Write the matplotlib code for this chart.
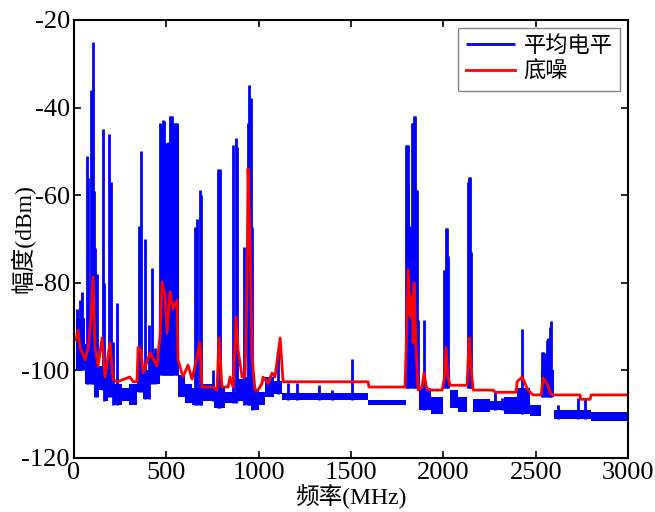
import numpy as np
import matplotlib
matplotlib.use("Agg")
import matplotlib.pyplot as plt

# ---------------- data ----------------
# blue noise band (step envelope): start frequency, lower and upper level
band_f = [10, 60, 110, 135, 160, 185, 210, 260, 300, 340, 375, 410, 466, 565, 600, 640,
          700, 760, 820, 880, 920, 960, 1000, 1035, 1080, 1126, 1592, 1795, 1868, 1930,
          1995, 2035, 2080, 2130, 2160, 2250, 2330, 2400, 2470, 2530, 2600, 2800, 3000]
band_lo = [-100, -103, -106, -104.5, -107, -106, -108, -107, -108, -105, -106.5, -103,
           -101, -106, -107.5, -108, -107, -108.5, -107.5, -107, -108, -109, -108, -106,
           -105.5, -106.8, -108, -104, -109, -110, -104, -108.5, -109.5, -104, -109.5,
           -109, -110, -110, -110.5, -106, -111, -111.5, -111.5]
band_hi = [-88, -94, -97, -99, -98, -100, -103, -104, -103, -99, -100, -96,
           -96, -101, -103, -104, -103, -104, -105, -102, -101.5, -104.5, -105, -101.5,
           -102.5, -105.2, -106.8, -100, -104, -106, -100, -104.5, -106, -100, -106.5,
           -107, -106, -104, -108, -100, -109, -109.5, -109.5]

# blue spikes: frequency and peak level
spike_f = [18, 35, 45, 50, 70, 78, 92, 103, 108, 115, 124, 155, 162, 190, 199, 210, 231,
           352, 363, 384, 405, 420, 440,
           468, 474, 480, 486, 492, 497, 502, 508, 514, 520, 526, 532, 538, 544, 550, 556, 560,
           655, 665, 683, 690, 753, 780, 790, 861, 877, 883, 920, 942, 950, 958, 963, 1105,
           1160, 1207, 1327, 1397, 1505,
           1798, 1803, 1807, 1810, 1820, 1829, 1834, 1839, 1845, 1849, 1855, 1865, 1895,
           2005, 2013, 2018, 2023, 2131, 2139, 2144, 2150,
           2280, 2317, 2426, 2534, 2540, 2550, 2560, 2567, 2575, 2583, 2620, 2730, 2767]
spike_top = [-86, -84, -82, -88, -51, -56, -36, -25, -59, -72, -78, -45, -80, -46, -57, -93.5, -84.6,
             -67, -50, -70, -89.6, -76.6, -95,
             -43.5, -44.4, -42.8, -43, -54, -48, -48, -47.8, -48, -42, -42, -42, -43.5, -43.5, -43.5, -43.5, -44,
             -67.3, -65.5, -58.8, -60, -100, -54, -54, -48.5, -47, -49, -71.8, -43.5, -34.8, -37.8, -67.3, -95.3,
             -102.9, -102.9, -103.3, -104.5, -97.4,
             -48.5, -48.5, -48.5, -58, -67, -43.5, -43.5, -42, -42, -58.8, -58.8, -88.5, -88.5,
             -77, -67.5, -67.5, -74, -57, -55.8, -55.8, -73,
             -105, -106.3, -90.5, -95.8, -95.8, -96, -93, -92.6, -90, -88.7, -107.9, -106.3, -106.5]

# red noise floor
floor_f = [10, 22, 32, 60, 76, 92, 103, 114, 130, 152, 168, 195, 211, 233, 303, 320, 341, 347,
           363, 374, 412, 449, 466, 477, 493, 504, 520, 536, 558, 563, 590, 617, 639, 682,
           693, 753, 774, 785, 801, 834, 845, 861, 877, 888, 910, 926, 937, 942, 953, 964,
           980, 996, 1018, 1023, 1050, 1072, 1088, 1116, 1126, 1132, 1592, 1597, 1792,
           1798, 1809, 1820, 1830, 1836, 1841, 1852, 1863, 1884, 1895, 1906, 1917, 1993,
           2004, 2014, 2025, 2036, 2128, 2134, 2139, 2155, 2161, 2269, 2280, 2393, 2399,
           2426, 2442, 2458, 2485, 2529, 2540, 2561, 2578, 2588, 2740, 2742, 2794, 2800, 3000]
floor_db = [-93, -90.8, -94.7, -97.6, -95, -88, -78.7, -94.7, -99, -92.6, -101.5, -93.7, -102,
            -102.6, -101.5, -102.6, -102.6, -94.7, -95.5, -100.6, -96, -99, -92, -79.8, -83,
            -91.5, -82, -86, -84, -97.6, -101.5, -98.8, -102, -93.7, -103.8, -103.8, -104.5,
            -92.6, -103.8, -103.8, -101.5, -103.8, -87.8, -95.3, -101.5, -101.5, -80, -54,
            -70, -97, -104.5, -104.5, -103, -101.5, -103, -100.6, -101.5, -92.6, -99, -102.6,
            -102.6, -103.8, -103.8, -95.3, -77, -87.8, -83, -93.7, -80, -95.3, -104.5, -103.8,
            -100.6, -103.5, -104.5, -104.5, -102, -94.7, -101.5, -103.4, -103.4, -97.6, -92.6,
            -102, -104.5, -104.5, -105, -105, -102.6, -101.5, -103, -104.5, -105.6, -105.6,
            -101.7, -103, -105, -105.6, -105.6, -106.6, -106.6, -105.6, -105.6]

x_ticks = [0, 500, 1000, 1500, 2000, 2500, 3000]
y_ticks = [-120, -100, -80, -60, -40, -20]

# ---------------- drawing ----------------
plt.rcParams["font.family"] = ["Liberation Serif", "Noto Sans CJK SC"]
plt.rcParams["axes.unicode_minus"] = False

fig = plt.figure(figsize=(6.55, 5.12), dpi=100)
ax = fig.add_axes([0.113, 0.1055, 0.846, 0.8555])

blue = "#0000ff"
red = "#ff0000"

ax.fill_between(band_f, band_lo, band_hi, step="post", color=blue, linewidth=0)
idx = np.searchsorted(band_f, spike_f, side="right") - 1
spike_base = np.array(band_lo)[idx]
ax.vlines(spike_f, spike_base, spike_top, color=blue, linewidth=2.0, label="平均电平")
ax.plot(floor_f, floor_db, color=red, linewidth=2.0, label="底噪")

ax.set_xlim(0, 3000)
ax.set_ylim(-120, -20)
ax.set_xticks(x_ticks)
ax.set_yticks(y_ticks)
ax.tick_params(direction="in", top=True, right=True, length=5, width=1.2,
               labelsize=19, pad=3)
for s in ax.spines.values():
    s.set_linewidth(1.5)

ax.set_xlabel("频率(MHz)", fontsize=17, labelpad=0)
ax.set_ylabel("幅度(dBm)", fontsize=17)
ax.yaxis.set_label_coords(-0.07, 0.5)

leg = ax.legend(loc="upper right", fontsize=16, frameon=True, fancybox=False,
                edgecolor="#666666", handlelength=2.2, borderaxespad=0.35,
                handletextpad=0.4, labelspacing=0.25, borderpad=0.35)
leg.get_frame().set_linewidth(1.0)

fig.savefig("out.png", dpi=100)
